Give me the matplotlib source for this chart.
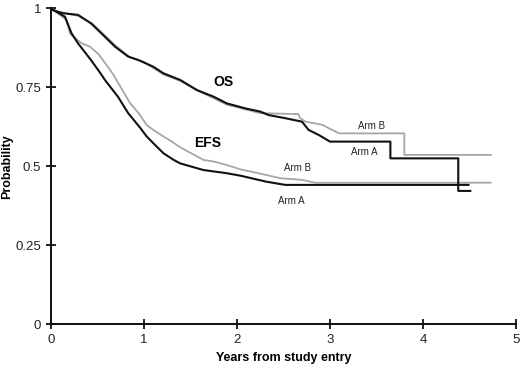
import matplotlib
matplotlib.use('Agg')
from matplotlib import pyplot as plt

plt.rcParams['font.family'] = ['Liberation Sans', 'DejaVu Sans']

# overall survival, arm A (black)
os_a_t = [0, 0.02, 0.13, 0.29, 0.43, 0.54, 0.69, 0.83, 0.94, 1.10, 1.21, 1.39, 1.57, 1.75, 1.89,
          2.09, 2.25, 2.34, 2.52, 2.70, 2.77, 2.88, 3.00, 3.65, 3.65, 4.38, 4.38, 4.51]
os_a_s = [1, 0.994, 0.984, 0.979, 0.952, 0.921, 0.878, 0.847, 0.836, 0.815, 0.794, 0.773, 0.741, 0.72, 0.699,
          0.683, 0.673, 0.662, 0.652, 0.641, 0.615, 0.599, 0.578, 0.578, 0.525, 0.525, 0.422, 0.422]

# overall survival, arm B (grey)
os_b_t = [0, 0.05, 0.15, 0.30, 0.45, 0.55, 0.70, 0.85, 1.00, 1.21, 1.39, 1.57, 1.75, 1.89, 2.09,
          2.25, 2.66, 2.68, 2.74, 2.92, 2.99, 3.10, 3.80, 3.80, 4.73]
os_b_s = [1, 0.99, 0.985, 0.975, 0.95, 0.922, 0.88, 0.845, 0.83, 0.79, 0.77, 0.74, 0.715, 0.695, 0.68,
          0.668, 0.665, 0.652, 0.641, 0.631, 0.62, 0.604, 0.604, 0.536, 0.536]

# event-free survival, arm A (black)
efs_a_t = [0, 0.05, 0.15, 0.22, 0.29, 0.43, 0.53, 0.58, 0.72, 0.83, 0.95, 1.03, 1.10, 1.21, 1.32, 1.39,
           1.64, 1.89, 2.04, 2.23, 2.32, 2.52, 4.49]
efs_a_s = [1, 0.99, 0.973, 0.921, 0.889, 0.836, 0.795, 0.773, 0.72, 0.668, 0.625, 0.594, 0.573, 0.541, 0.52, 0.509,
           0.488, 0.478, 0.47, 0.457, 0.451, 0.441, 0.441]

# event-free survival, arm B (grey)
efs_b_t = [0, 0.05, 0.165, 0.205, 0.24, 0.33, 0.42, 0.51, 0.61, 0.67, 0.76, 0.85, 0.95, 1.03, 1.10, 1.21,
           1.30, 1.39, 1.64, 1.75, 1.89, 2.04, 2.23, 2.47, 2.70, 2.84, 4.73]
efs_b_s = [1, 0.99, 0.963, 0.92, 0.91, 0.889, 0.878, 0.855, 0.815, 0.79, 0.745, 0.70, 0.665, 0.63, 0.615, 0.594,
           0.578, 0.56, 0.52, 0.515, 0.504, 0.49, 0.478, 0.462, 0.457, 0.448, 0.448]

x_ticks = [0, 1, 2, 3, 4, 5]
y_ticks = [0, 0.25, 0.5, 0.75, 1]
y_tick_labels = ['0', '0.25', '0.5', '0.75', '1']

BLACK = '#111111'
GREY = '#a6a6a6'

fig = plt.figure(figsize=(5.2, 3.65), dpi=100)
ax = fig.add_axes([0.0981, 0.1115, 0.894, 0.866])

ax.plot(os_b_t, os_b_s, color=GREY, lw=1.3, clip_on=False)
ax.plot(efs_b_t, efs_b_s, color=GREY, lw=1.3, clip_on=False)
ax.plot(os_a_t, os_a_s, color=BLACK, lw=1.5, clip_on=False)
ax.plot(efs_a_t, efs_a_s, color=BLACK, lw=1.5, clip_on=False)

ax.set_xlim(0, 5)
ax.set_ylim(0, 1)
ax.set_xticks(x_ticks)
ax.set_yticks(y_ticks)
ax.set_yticklabels(y_tick_labels)

for side in ['top', 'right']:
    ax.spines[side].set_visible(False)
for side in ['left', 'bottom']:
    ax.spines[side].set_linewidth(1.4)
    ax.spines[side].set_color(BLACK)

ax.tick_params(direction='inout', length=7, width=1.3, color=BLACK,
               labelsize=9.5, labelcolor='#222222', pad=3.5)

ax.set_xlabel('Years from study entry', fontsize=9, fontweight='bold', labelpad=4)
ax.set_ylabel('Probability', fontsize=9, fontweight='bold', va='center')
ax.yaxis.set_label_coords(-0.094, 0.5)

ax.text(1.85, 0.767, 'OS', fontsize=10, fontweight='bold', ha='center', va='center')
ax.text(1.68, 0.574, 'EFS', fontsize=10, fontweight='bold', ha='center', va='center')
ax.text(3.45, 0.628, 'Arm B', fontsize=7, ha='center', va='center', color='#222222')
ax.text(3.37, 0.546, 'Arm A', fontsize=7, ha='center', va='center', color='#222222')
ax.text(2.65, 0.494, 'Arm B', fontsize=7, ha='center', va='center', color='#222222')
ax.text(2.58, 0.391, 'Arm A', fontsize=7, ha='center', va='center', color='#222222')

fig.savefig('out.png', dpi=100)
